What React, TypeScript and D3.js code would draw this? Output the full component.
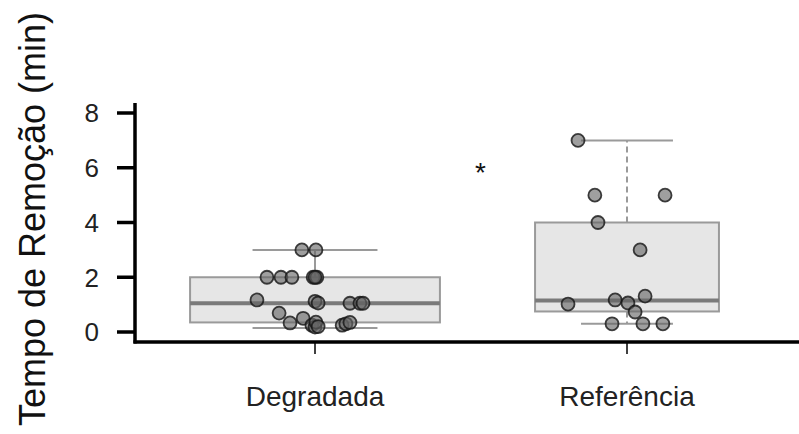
import React from "react";
import * as d3 from "d3";

const categories = ["Degradada", "Referência"];
const sampleSizes = [24, 13];
const q1 = [0.35, 0.75];
const medians = [1.05, 1.15];
const q3 = [2, 4];
const whiskerLow = [0.15, 0.3];
const whiskerHigh = [3, 7];
const whiskerDashed = [false, true];
const yTicks = [0, 2, 4, 6, 8];

// points: group index, value, horizontal jitter (fraction of category step)
const pointGroup = [
  0, 0, 0, 0, 0, 0, 0, 0, 0, 0, 0, 0, 0, 0, 0, 0, 0, 0, 0, 0, 0, 0, 0, 0,
  1, 1, 1, 1, 1, 1, 1, 1, 1, 1, 1, 1, 1,
];
const pointValue = [
  3, 3, 2, 2, 2, 2, 2, 2, 1.17, 1.12, 1.06, 1.05, 1.05, 1.05, 0.69, 0.33, 0.5, 0.25, 0.18, 0.36, 0.25, 0.3, 0.35, 0.2,
  7, 5, 5, 4, 3, 1.02, 1.17, 1.06, 1.31, 0.73, 0.3, 0.3, 0.3,
];
const pointJitter = [
  -0.042, 0.003, -0.154, -0.109, -0.074, -0.006, 0.006, 0.0, -0.186, 0.0, 0.01, 0.112, 0.144, 0.154, -0.115, -0.08, -0.038, -0.01, 0.0, 0.003, 0.087, 0.099, 0.112, 0.01,
  -0.157, -0.103, 0.122, -0.093, 0.042, -0.189, -0.038, 0.003, 0.058, 0.026, -0.048, 0.051, 0.115,
];

const significance = { label: "*", xBetween: 0.53, value: 6 };

export default function App() {
  const W = 799;
  const H = 434;
  const axisX = 135;
  const axisBottom = 342;
  const x = d3.scalePoint<string>().domain(categories).range([315, 627]);
  const step = 312;
  const y = d3.scaleLinear().domain([0, 8]).range([332, 113]);
  const widthK = 51;
  const font = "Arial, 'Liberation Sans', sans-serif";
  const boxStroke = "#9a9a9a";

  return (
    <svg
      width={W}
      height={H}
      style={{ position: "absolute", left: 0, top: 0, background: "#fff" }}
      fontFamily={font}
    >
      {/* boxes */}
      {categories.map((c, i) => {
        const cx = x(c)!;
        const bw = widthK * Math.sqrt(sampleSizes[i]);
        const capW = bw / 2;
        const dash = whiskerDashed[i] ? "6,4" : undefined;
        return (
          <g key={c}>
            <line x1={cx} x2={cx} y1={y(q3[i])} y2={y(whiskerHigh[i])} stroke={boxStroke} strokeWidth={2} strokeDasharray={dash} />
            <line x1={cx} x2={cx} y1={y(q1[i])} y2={y(whiskerLow[i])} stroke={boxStroke} strokeWidth={2} strokeDasharray={dash} />
            <line x1={cx - capW / 2} x2={cx + capW / 2} y1={y(whiskerHigh[i])} y2={y(whiskerHigh[i])} stroke={boxStroke} strokeWidth={2} />
            <line x1={cx - capW / 2} x2={cx + capW / 2} y1={y(whiskerLow[i])} y2={y(whiskerLow[i])} stroke={boxStroke} strokeWidth={2} />
            <rect x={cx - bw / 2} y={y(q3[i])} width={bw} height={y(q1[i]) - y(q3[i])} fill="#e6e6e6" stroke={boxStroke} strokeWidth={2} />
            <line x1={cx - bw / 2} x2={cx + bw / 2} y1={y(medians[i])} y2={y(medians[i])} stroke="#7a7a7a" strokeWidth={4} />
          </g>
        );
      })}

      {/* points */}
      {pointValue.map((v, i) => (
        <circle
          key={i}
          cx={x(categories[pointGroup[i]])! + pointJitter[i] * step}
          cy={y(v)}
          r={6.5}
          fill="rgba(100,100,100,0.62)"
          stroke="rgba(20,20,20,0.8)"
          strokeWidth={1.8}
        />
      ))}

      {/* significance */}
      <text
        x={x(categories[0])! + significance.xBetween * step}
        y={y(significance.value) + 14}
        textAnchor="middle"
        fontSize={28}
        fill="#111"
      >
        {significance.label}
      </text>

      {/* y axis */}
      <line x1={axisX} x2={axisX} y1={103} y2={axisBottom + 1.5} stroke="#000" strokeWidth={3.5} />
      {yTicks.map((t) => (
        <g key={t}>
          <line x1={117} x2={axisX} y1={y(t)} y2={y(t)} stroke="#000" strokeWidth={3.5} />
          <text x={99} y={y(t)} dy="0.36em" textAnchor="end" fontSize={26} fill="#222">
            {t}
          </text>
        </g>
      ))}
      {/* x axis */}
      <line x1={axisX - 1.5} x2={W} y1={axisBottom} y2={axisBottom} stroke="#000" strokeWidth={3.5} />
      {categories.map((c) => (
        <g key={c}>
          <line x1={x(c)!} x2={x(c)!} y1={axisBottom} y2={axisBottom + 12} stroke="#000" strokeWidth={1.5} />
          <text x={x(c)!} y={406} textAnchor="middle" fontSize={28} fill="#222">
            {c}
          </text>
        </g>
      ))}

      <text
        transform={`translate(45, 219) rotate(-90)`}
        textAnchor="middle"
        fontSize={36}
        fill="#111"
      >
        Tempo de Remoção (min)
      </text>
    </svg>
  );
}
